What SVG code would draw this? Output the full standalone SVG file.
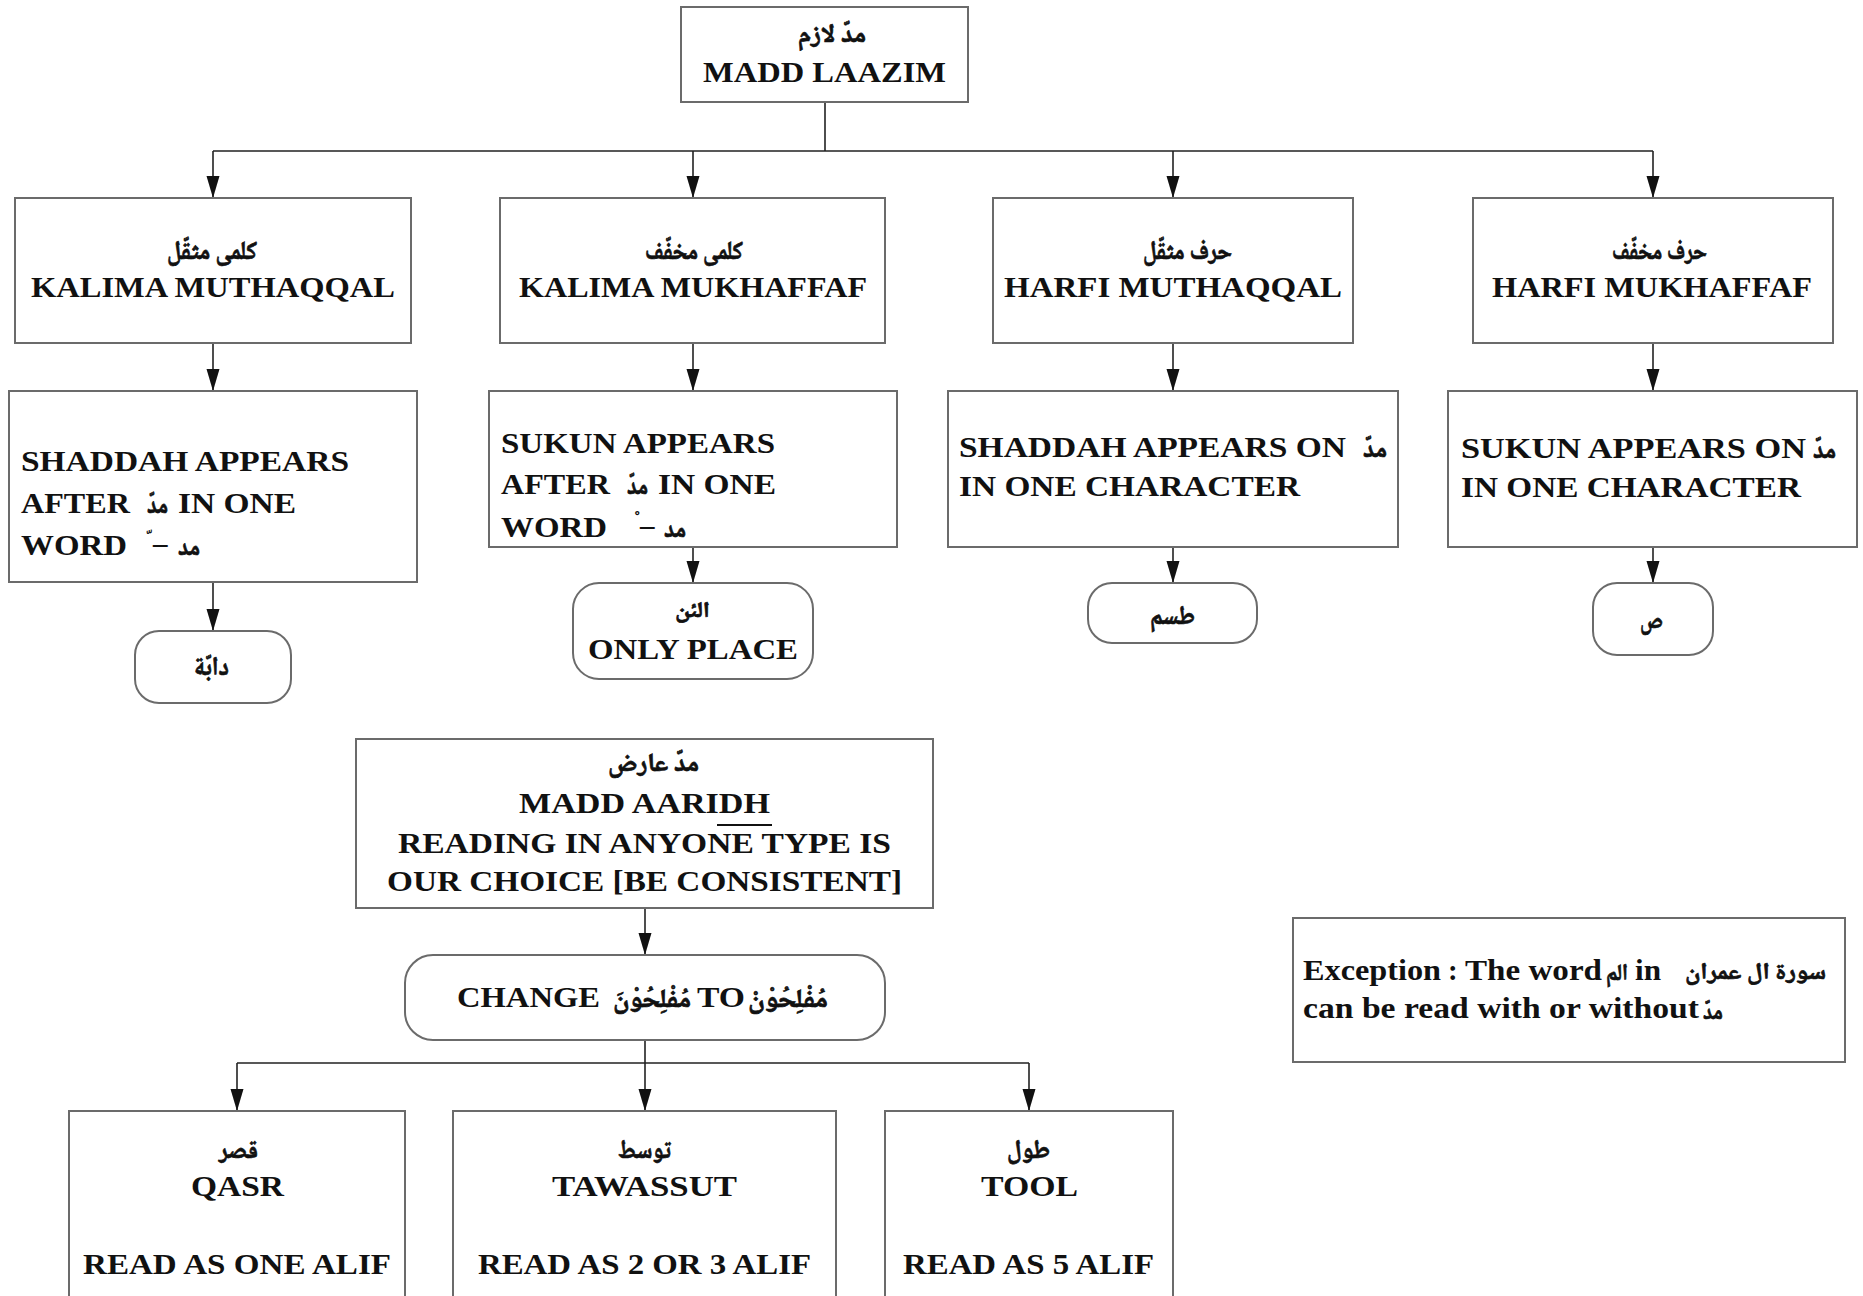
<svg xmlns="http://www.w3.org/2000/svg" width="1863" height="1296" viewBox="0 0 1863 1296">
  <style>
    .box { fill: #fff; stroke: #6b6b6b; stroke-width: 2; }
    .con { fill: none; stroke: #222; stroke-width: 1.6; }
    .en { font-family: "Liberation Serif", "Times New Roman", serif; font-weight: bold; font-size: 29px; fill: #111; }
    .ar { font-family: "Noto Naskh Arabic", "Noto Sans Arabic", "DejaVu Sans", sans-serif; font-weight: bold; font-size: 26px; fill: #111; stroke: #111; stroke-width: 0.7; }
    .note-ar { font-size: 23px; }
    .small-ar { font-size: 22px; }
    .mark { font-family: "DejaVu Sans", sans-serif; font-weight: bold; font-size: 16px; fill: #111; text-anchor: middle; }
  </style>
  <defs>
    <marker id="arrow" markerUnits="userSpaceOnUse" viewBox="0 -8 23 16" refX="22" refY="0" markerWidth="23" markerHeight="16" orient="auto">
      <path d="M0,-6.5 L22,0 L0,6.5 z" fill="#111"/>
    </marker>
  </defs>

  <!-- connectors -->
  <g id="connectors">
    <path class="con" d="M825,102 V151 M213,151 H1653"/>
    <path class="con" d="M213,151 V198" marker-end="url(#arrow)"/>
    <path class="con" d="M693,151 V198" marker-end="url(#arrow)"/>
    <path class="con" d="M1173,151 V198" marker-end="url(#arrow)"/>
    <path class="con" d="M1653,151 V198" marker-end="url(#arrow)"/>
    <path class="con" d="M213,343 V391" marker-end="url(#arrow)"/>
    <path class="con" d="M693,343 V391" marker-end="url(#arrow)"/>
    <path class="con" d="M1173,343 V391" marker-end="url(#arrow)"/>
    <path class="con" d="M1653,343 V391" marker-end="url(#arrow)"/>
    <path class="con" d="M213,582 V631" marker-end="url(#arrow)"/>
    <path class="con" d="M693,547 V583" marker-end="url(#arrow)"/>
    <path class="con" d="M1173,547 V583" marker-end="url(#arrow)"/>
    <path class="con" d="M1653,547 V583" marker-end="url(#arrow)"/>
    <path class="con" d="M645,908 V955" marker-end="url(#arrow)"/>
    <path class="con" d="M645,1040 V1063 M237,1063 H1029"/>
    <path class="con" d="M237,1063 V1111" marker-end="url(#arrow)"/>
    <path class="con" d="M645,1063 V1111" marker-end="url(#arrow)"/>
    <path class="con" d="M1029,1063 V1111" marker-end="url(#arrow)"/>
  </g>

  <!-- root -->
  <g id="madd-laazim">
    <rect class="box" x="681" y="7" width="287" height="95"/>
    <text class="ar" x="798" y="42" textLength="68" lengthAdjust="spacingAndGlyphs">مدّ لازم</text>
    <text class="en" x="703" y="82" textLength="243" lengthAdjust="spacingAndGlyphs">MADD LAAZIM</text>
  </g>

  <!-- second row -->
  <g id="kalima-muthaqqal">
    <rect class="box" x="15" y="198" width="396" height="145"/>
    <text class="ar" x="167" y="259" textLength="90" lengthAdjust="spacingAndGlyphs">كلمى مثقّل</text>
    <text class="en" x="31" y="297" textLength="364" lengthAdjust="spacingAndGlyphs">KALIMA MUTHAQQAL</text>
  </g>
  <g id="kalima-mukhaffaf">
    <rect class="box" x="500" y="198" width="385" height="145"/>
    <text class="ar" x="645" y="259" textLength="98" lengthAdjust="spacingAndGlyphs">كلمى مخفّف</text>
    <text class="en" x="519" y="297" textLength="348" lengthAdjust="spacingAndGlyphs">KALIMA MUKHAFFAF</text>
  </g>
  <g id="harfi-muthaqqal">
    <rect class="box" x="993" y="198" width="360" height="145"/>
    <text class="ar" x="1143" y="259" textLength="89" lengthAdjust="spacingAndGlyphs">حرف مثقّل</text>
    <text class="en" x="1004" y="297" textLength="338" lengthAdjust="spacingAndGlyphs">HARFI MUTHAQQAL</text>
  </g>
  <g id="harfi-mukhaffaf">
    <rect class="box" x="1473" y="198" width="360" height="145"/>
    <text class="ar" x="1612" y="259" textLength="95" lengthAdjust="spacingAndGlyphs">حرف مخفّف</text>
    <text class="en" x="1492" y="297" textLength="320" lengthAdjust="spacingAndGlyphs">HARFI MUKHAFFAF</text>
  </g>

  <!-- third row: rules -->
  <g id="rule-kalima-muthaqqal">
    <rect class="box" x="9" y="391" width="408" height="191"/>
    <text class="en" x="21" y="471" textLength="328" lengthAdjust="spacingAndGlyphs">SHADDAH APPEARS</text>
    <text class="en" x="21" y="513" textLength="109" lengthAdjust="spacingAndGlyphs">AFTER</text>
    <text class="ar" x="147" y="513" textLength="21" lengthAdjust="spacingAndGlyphs">مدّ</text>
    <text class="en" x="178" y="513" textLength="118" lengthAdjust="spacingAndGlyphs">IN ONE</text>
    <text class="en" x="21" y="555" textLength="106" lengthAdjust="spacingAndGlyphs">WORD</text>
    <text class="mark" x="148" y="544">&#x00A0;&#x0651;</text>
    <text class="en" x="153" y="553">–</text>
    <text class="ar" x="178" y="555" textLength="22" lengthAdjust="spacingAndGlyphs">مد</text>
  </g>
  <g id="rule-kalima-mukhaffaf">
    <rect class="box" x="489" y="391" width="408" height="156"/>
    <text class="en" x="501" y="453" textLength="274" lengthAdjust="spacingAndGlyphs">SUKUN APPEARS</text>
    <text class="en" x="501" y="494" textLength="109" lengthAdjust="spacingAndGlyphs">AFTER</text>
    <text class="ar" x="627" y="494" textLength="21" lengthAdjust="spacingAndGlyphs">مدّ</text>
    <text class="en" x="658" y="494" textLength="118" lengthAdjust="spacingAndGlyphs">IN ONE</text>
    <text class="en" x="501" y="537" textLength="106" lengthAdjust="spacingAndGlyphs">WORD</text>
    <text class="mark" x="636" y="525">&#x00A0;&#x0652;</text>
    <text class="en" x="640" y="535">–</text>
    <text class="ar" x="664" y="537" textLength="22" lengthAdjust="spacingAndGlyphs">مد</text>
  </g>
  <g id="rule-harfi-muthaqqal">
    <rect class="box" x="948" y="391" width="450" height="156"/>
    <text class="en" x="959" y="457" textLength="387" lengthAdjust="spacingAndGlyphs">SHADDAH APPEARS ON</text>
    <text class="ar" x="1363" y="457" textLength="24" lengthAdjust="spacingAndGlyphs">مدّ</text>
    <text class="en" x="959" y="496" textLength="341" lengthAdjust="spacingAndGlyphs">IN ONE CHARACTER</text>
  </g>
  <g id="rule-harfi-mukhaffaf">
    <rect class="box" x="1448" y="391" width="409" height="156"/>
    <text class="en" x="1461" y="458" textLength="345" lengthAdjust="spacingAndGlyphs">SUKUN APPEARS ON</text>
    <text class="ar" x="1813" y="458" textLength="23" lengthAdjust="spacingAndGlyphs">مدّ</text>
    <text class="en" x="1461" y="497" textLength="340" lengthAdjust="spacingAndGlyphs">IN ONE CHARACTER</text>
  </g>

  <!-- examples -->
  <g id="example-dabbah">
    <rect class="box" x="135" y="631" width="156" height="72" rx="24"/>
    <text class="ar" x="194" y="675" textLength="35" lengthAdjust="spacingAndGlyphs">دابّة</text>
  </g>
  <g id="example-aalaan">
    <rect class="box" x="573" y="583" width="240" height="96" rx="26"/>
    <text class="ar small-ar" x="675" y="617" textLength="35" lengthAdjust="spacingAndGlyphs">الئن</text>
    <text class="en" x="588" y="659" textLength="210" lengthAdjust="spacingAndGlyphs">ONLY PLACE</text>
  </g>
  <g id="example-tasim">
    <rect class="box" x="1088" y="583" width="169" height="60" rx="24"/>
    <text class="ar" x="1150" y="624" textLength="45" lengthAdjust="spacingAndGlyphs">طسم</text>
  </g>
  <g id="example-saad">
    <rect class="box" x="1593" y="583" width="120" height="72" rx="24"/>
    <text class="ar" x="1640" y="628" textLength="23" lengthAdjust="spacingAndGlyphs">ص</text>
  </g>

  <!-- madd aaridh -->
  <g id="madd-aaridh">
    <rect class="box" x="356" y="739" width="577" height="169"/>
    <text class="ar" x="608" y="771" textLength="91" lengthAdjust="spacingAndGlyphs">مدّ عارض</text>
    <text class="en" x="519" y="813" textLength="251" lengthAdjust="spacingAndGlyphs">MADD AARIDH</text>
    <text class="en" x="398" y="853" textLength="493" lengthAdjust="spacingAndGlyphs">READING IN ANYONE TYPE IS</text>
    <line x1="717" y1="825" x2="772" y2="825" stroke="#111" stroke-width="2"/>
    <text class="en" x="387" y="891" textLength="515" lengthAdjust="spacingAndGlyphs">OUR CHOICE [BE CONSISTENT]</text>
  </g>
  <g id="change-vowel">
    <rect class="box" x="405" y="955" width="480" height="85" rx="28"/>
    <text class="en" x="457" y="1007" textLength="143" lengthAdjust="spacingAndGlyphs">CHANGE</text>
    <text class="ar" x="613" y="1007" textLength="78" lengthAdjust="spacingAndGlyphs">مُفْلِحُوْنَ</text>
    <text class="en" x="697" y="1007" textLength="48" lengthAdjust="spacingAndGlyphs">TO</text>
    <text class="ar" x="748" y="1007" textLength="80" lengthAdjust="spacingAndGlyphs">مُفْلِحُوْنْ</text>
  </g>

  <!-- lengths -->
  <g id="qasr">
    <rect class="box" x="69" y="1111" width="336" height="200"/>
    <text class="ar" x="219" y="1158" textLength="39" lengthAdjust="spacingAndGlyphs">قصر</text>
    <text class="en" x="191" y="1196" textLength="93" lengthAdjust="spacingAndGlyphs">QASR</text>
    <text class="en" x="83" y="1274" textLength="308" lengthAdjust="spacingAndGlyphs">READ AS ONE ALIF</text>
  </g>
  <g id="tawassut">
    <rect class="box" x="453" y="1111" width="383" height="200"/>
    <text class="ar" x="618" y="1158" textLength="53" lengthAdjust="spacingAndGlyphs">توسط</text>
    <text class="en" x="552" y="1196" textLength="185" lengthAdjust="spacingAndGlyphs">TAWASSUT</text>
    <text class="en" x="478" y="1274" textLength="333" lengthAdjust="spacingAndGlyphs">READ AS 2 OR 3 ALIF</text>
  </g>
  <g id="tool">
    <rect class="box" x="885" y="1111" width="288" height="200"/>
    <text class="ar" x="1007" y="1158" textLength="43" lengthAdjust="spacingAndGlyphs">طول</text>
    <text class="en" x="981" y="1196" textLength="97" lengthAdjust="spacingAndGlyphs">TOOL</text>
    <text class="en" x="903" y="1274" textLength="251" lengthAdjust="spacingAndGlyphs">READ AS 5 ALIF</text>
  </g>

  <!-- note -->
  <g id="exception-note">
    <rect class="box" x="1293" y="918" width="552" height="144"/>
    <text class="en" x="1303" y="980" textLength="138" lengthAdjust="spacingAndGlyphs">Exception</text>
    <text class="en" x="1448" y="980" font-weight="normal">:</text>
    <text class="en" x="1465" y="980" textLength="137" lengthAdjust="spacingAndGlyphs">The word</text>
    <text class="ar note-ar" x="1606" y="980" textLength="22" lengthAdjust="spacingAndGlyphs">الم</text>
    <text class="en" x="1635" y="980" textLength="26" lengthAdjust="spacingAndGlyphs">in</text>
    <text class="ar note-ar" x="1685" y="979" textLength="141" lengthAdjust="spacingAndGlyphs">سورة ال عمران</text>
    <text class="en" x="1303" y="1018" textLength="396" lengthAdjust="spacingAndGlyphs">can be read with or without</text>
    <text class="ar note-ar" x="1703" y="1019" textLength="20" lengthAdjust="spacingAndGlyphs">مدّ</text>
  </g>
</svg>
